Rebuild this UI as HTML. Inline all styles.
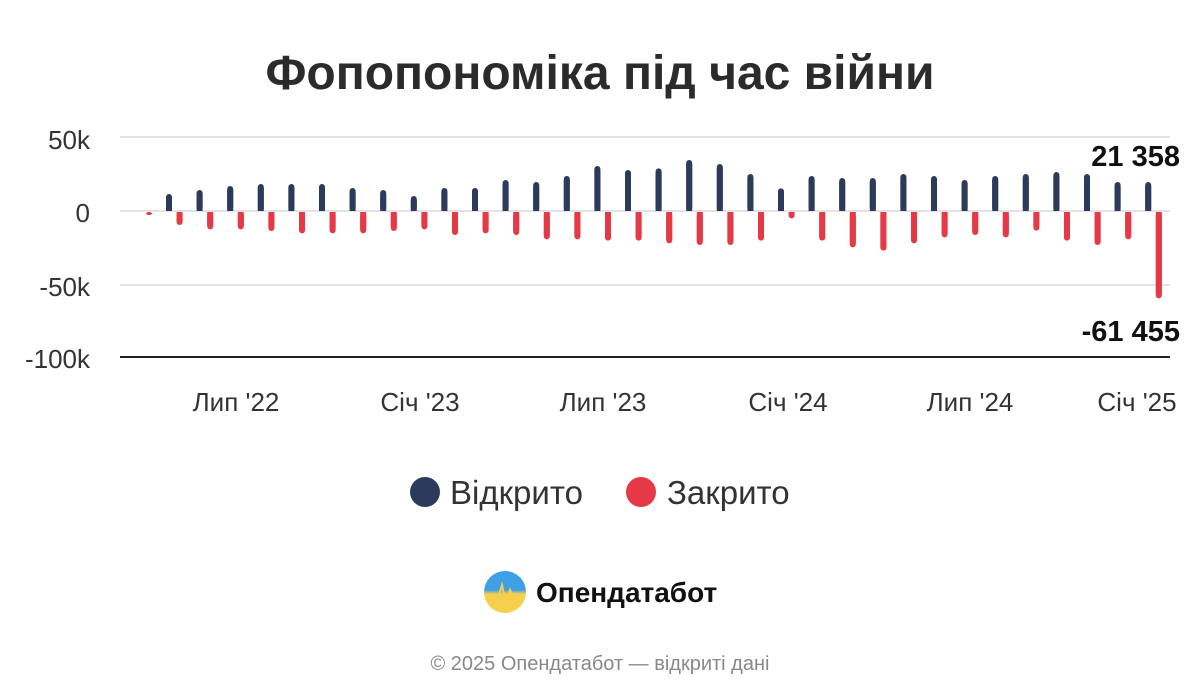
<!DOCTYPE html>
<html><head><meta charset="utf-8"><style>
html,body{margin:0;padding:0;background:#fff;width:1200px;height:700px;overflow:hidden;font-family:"Liberation Sans","DejaVu Sans",sans-serif}
</style></head><body>
<svg id="s" width="1200" height="700" xmlns="http://www.w3.org/2000/svg" font-family="Liberation Sans, DejaVu Sans, sans-serif">
<text x="600" y="89" text-anchor="middle" font-size="48" font-weight="bold" fill="#2b2b2b">Фопопономіка під час війни</text>
<line x1="120" y1="137" x2="1170" y2="137" stroke="#e3e3e3" stroke-width="2"/>
<line x1="120" y1="211" x2="1170" y2="211" stroke="#e3e3e3" stroke-width="2"/>
<line x1="120" y1="285" x2="1170" y2="285" stroke="#e3e3e3" stroke-width="2"/>
<line x1="120" y1="357" x2="1170" y2="357" stroke="#222" stroke-width="2"/>
<g font-size="26" fill="#333" text-anchor="end">
<text x="90" y="149">50k</text><text x="90" y="222">0</text><text x="90" y="296">-50k</text><text x="90" y="368">-100k</text>
</g>
<g font-size="26" fill="#333" text-anchor="middle">
<text x="236" y="411">Лип '22</text><text x="420" y="411">Січ '23</text><text x="603" y="411">Лип '23</text><text x="788" y="411">Січ '24</text><text x="970" y="411">Лип '24</text><text x="1137" y="411">Січ '25</text>
</g>
<g id="bars"></g>
<text x="1180" y="166" text-anchor="end" font-size="29" font-weight="bold" fill="#111">21 358</text>
<text x="1180" y="341" text-anchor="end" font-size="29" font-weight="bold" fill="#111">-61 455</text>
<circle cx="425" cy="492" r="15" fill="#2b3b5b"/>
<text x="450" y="504" font-size="33" fill="#333">Відкрито</text>
<circle cx="641" cy="492" r="15" fill="#e63946"/>
<text x="667" y="504" font-size="33" fill="#333">Закрито</text>
<defs><linearGradient id="lg" x1="0" y1="0" x2="0" y2="1"><stop offset="0.45" stop-color="#3fa0e6"/><stop offset="0.55" stop-color="#f6d04d"/></linearGradient></defs>
<circle cx="505" cy="592" r="21" fill="url(#lg)"/>
<polyline points="486,598 498,598 502,585 506,604 510,590 514,598 524,598" fill="none" stroke="#f6d04d" stroke-width="2"/>
<text x="536" y="602" font-size="28" font-weight="bold" fill="#111">Опендатабот</text>
<text x="600" y="670" text-anchor="middle" font-size="20" fill="#888">© 2025 Опендатабот — відкриті дані</text>
</svg>
<script>
var blue=[null,132,120,108,102,102,102,114,120,138,114,114,90,96,78,48,60,55,30,42,72,115,78,84,84,72,78,90,78,72,66,72,96,96];
var red=[195,225,238,238,243,250,250,250,243,238,255,250,255,268,268,272,272,280,285,285,272,205,272,292,302,280,262,255,262,242,272,285,268,445];
var g=document.getElementById('bars'),h='';
for(var i=0;i<34;i++){
 var rx=149+30.6*i, bx=138.4+30.6*i;
 if(blue[i]!=null){var t=150+blue[i]/3;h+='<rect x="'+(bx-3)+'" y="'+t+'" width="6" height="'+(211-t)+'" rx="3" fill="#2b3b5b"/>';h+='<rect x="'+(bx-3)+'" y="'+(t+4)+'" width="6" height="'+(207-t)+'" fill="#2b3b5b"/>';}
 var b=150+red[i]/3;h+='<rect x="'+(rx-3)+'" y="212" width="6" height="'+(b-212)+'" rx="3" fill="#e63946"/>';h+='<rect x="'+(rx-3)+'" y="212" width="6" height="'+Math.max(0,b-216)+'" fill="#e63946"/>';
}
g.innerHTML=h;
</script>
</body></html>
